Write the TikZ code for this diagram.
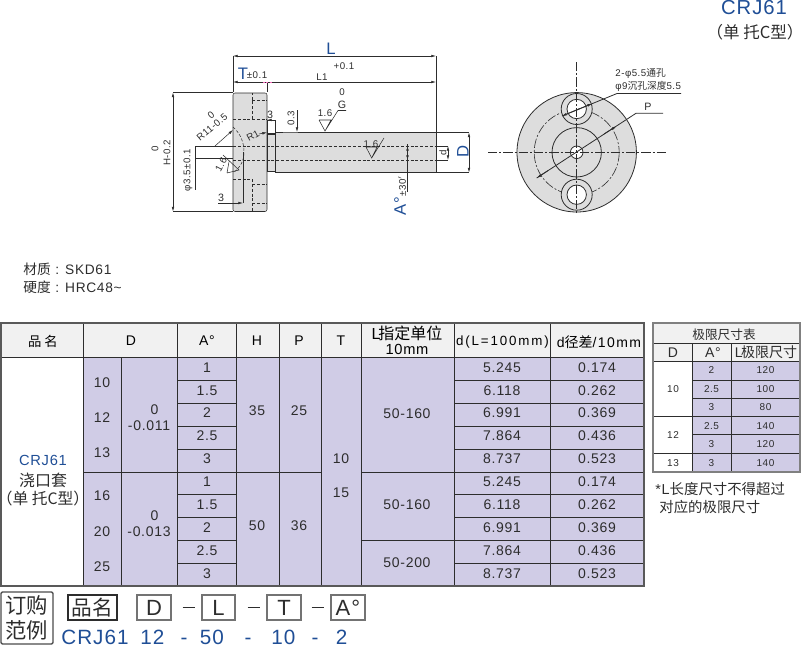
\documentclass[tikz,border=0pt]{standalone}
\usepackage{fontspec}
\setmainfont[LetterSpace=5]{Liberation Sans}
\newfontfamily\cjk{Noto Sans CJK SC}
\usetikzlibrary{arrows.meta}

\definecolor{inkgray}{RGB}{45,45,45}
\definecolor{titleblue}{RGB}{31,78,150}
\definecolor{celllav}{RGB}{208,204,230}
\definecolor{headgray}{RGB}{241,241,241}
\definecolor{partgray}{RGB}{221,221,221}

\tikzset{every picture/.style={line width=0.6pt},
  dimline/.style={draw=inkgray,line width=0.4pt},
  dimarrow/.style={dimline,{Latex[length=3.5pt,width=2pt]}-{Latex[length=3.5pt,width=2pt]}},
  tiparrow/.style={dimline,-{Latex[length=3.5pt,width=2pt]}},
  hiddenline/.style={draw=inkgray,line width=0.4pt,dash pattern=on 2.2pt off 1.4pt},
  centerline/.style={draw=inkgray,line width=0.45pt,dash pattern=on 7pt off 1.5pt on 1.5pt off 1.5pt},
  dimtext/.style={inner sep=0pt,text=inkgray,font=\fontsize{7.3}{8}\selectfont},
  bluedim/.style={inner sep=0pt,text=titleblue,font=\fontsize{12.5}{13}\selectfont},
  celltext/.style={inner sep=0pt,text=inkgray,font=\fontsize{10.5}{11}\selectfont},
  headtext/.style={inner sep=0pt,text=black,align=center,font=\fontsize{10.5}{11}\selectfont},
  tabline/.style={draw=inkgray,line width=0.7pt},
  frameline/.style={draw=black!65,line width=1.1pt},
  smalltext/.style={inner sep=0pt,text=inkgray,font=\fontsize{7.5}{8}\selectfont},
  noteline/.style={inner sep=0pt,anchor=west,text=inkgray,font=\fontsize{10.3}{11}\selectfont},
  orderbox/.style={draw=black!55,line width=0.9pt,fill=white,inner sep=0pt,text=inkgray,font=\fontsize{16.5}{17}\selectfont},
  ordertext/.style={inner sep=0pt,anchor=base,text=titleblue,font=\fontsize{15.5}{17}\selectfont}}

\begin{document}
\begin{tikzpicture}[x=0.75pt,y=0.75pt,yscale=-1,xscale=1]
\useasboundingbox (0,0) rectangle (801,646);

% Title
\node [inner sep=0pt,text=titleblue,font=\fontsize{15.2}{18}\selectfont] (titlename) at (754,8) {CRJ61};
\node [inner sep=0pt,text=inkgray,font=\fontsize{12.4}{13}\cjk\selectfont] (titlesub) at (755,32) {（单 托C型）};

% Flange and shank
\draw [dimline,fill=partgray,rounded corners=1.5pt] (233,93) -- (267,93) -- (267,211.5) -- (233,211.5) -- cycle;
\draw [dimline,fill=partgray] (267,134) rectangle (275,171.5);
\draw [dimline,line width=0.6pt,fill=partgray] (275,132.5) rectangle (436,172.5);
% Small step above the neck
\draw [dimline,line width=0.6pt,fill=white] (267,120) rectangle (275,133);

% Hidden edges
\draw [hiddenline] (233,119) -- (252,119) -- (252,93);
\draw [hiddenline] (233,179) -- (252,179) -- (252,211);
\draw [hiddenline] (252,100) -- (267,100) (252,119) -- (267,119);
\draw [hiddenline] (252,184) -- (267,184) (252,203) -- (267,203);
\draw [hiddenline] (233,146) -- (436,146) (233,160) -- (436,160);
\draw [hiddenline] (233,127) .. controls (241,134) and (244,143) .. (244,152) .. controls (244,160) and (241,167) .. (233,173);

% Dimension L, L1, T
\draw [dimline] (233,92) -- (233,56) (436,132) -- (436,56) (267,92) -- (267,82);
\draw [dimarrow] (233,56) -- (436,56);
\draw [dimarrow] (233,82) -- (436,82);
\draw [draw=magenta!60,line width=0.8pt,dash pattern=on 1.5pt off 1pt] (263,82.5) -- (272,82.5);
\node [bluedim] (dimL) at (331,49) {L};
\node [dimtext] (dimplus) at (344,66) {+0.1};
\node [dimtext] (dimLa) at (322,77) {L1};
\node [dimtext] (dimzero) at (342,92) {0};
\node [bluedim] (dimT) at (243,74) {T};
\node [dimtext] (dimTol) at (257,75) {±0.1};

% Dimension H
\draw [dimline] (233,92.5) -- (173,92.5) (233,211.5) -- (173,211.5);
\draw [dimarrow] (173,92.5) -- (173,211.5);
\node [dimtext,rotate=90] (dimHz) at (155,149) {0};
\node [dimtext,rotate=90] (dimH) at (167,153) {H-0.2};

% Spherical radius and hole
\draw [dimline,line width=0.7pt] (195,146) -- (233,146) (195,158) -- (233,158) (195,146) -- (195,190);
\node [dimtext,rotate=90] (dimHole) at (188,170) {φ3.5±0.1};
\draw [tiparrow] (215,146) -- (233,130);
\node [dimtext,rotate=40] (dimR) at (212,127) {R11-0.5};
\node [dimtext,rotate=40] (dimRz) at (211,115.5) {0};

% Depth 3
\draw [dimline,line width=0.7pt] (243,203) -- (243,152);
\draw [tiparrow] (218,203) -- (243,203);
\node [dimtext,font=\fontsize{8}{9}\selectfont] (dimDepth) at (221,198) {3};

% Rotated finish mark
\draw [dimline] (227,173) -- (239,170) -- (223,155) (227,173) -- (229,161.7);
\node [dimtext,rotate=62] (markA) at (221,165) {1.6};

% Step dimensions
\draw [tiparrow] (275,120) -- (267,120);
\node [dimtext,font=\fontsize{8}{9}\selectfont] (dimStep) at (270,114.5) {3};
\draw [dimline,line width=0.9pt,draw=black!60] (283,132.5) -- (298,132.5);
\draw [tiparrow] (297,110) -- (297,132);
\node [dimtext,rotate=90] (dimGap) at (291,118) {0.3};
\draw [tiparrow] (259,134) -- (267,132.5);
\node [dimtext,rotate=28] (dimFillet) at (253,136) {R1};

% Finish marks on the shank
\draw [dimline] (319,120) -- (331,120) -- (325,131) -- (319,120) (325,131) -- (338,110.5) -- (346,110.5);
\node [dimtext] (markB) at (325,113) {1.6};
\node [dimtext,font=\fontsize{8}{9}\selectfont] (markG) at (342,105) {G};
\draw [dimline] (366,147) -- (377,147) -- (371.7,158) -- (366,147) (371.7,158) -- (384,138);
\node [dimtext] (markC) at (371,144.5) {1.6};

% Dimension d, D, A
\draw [dimline] (436,146) -- (448,146) (436,160) -- (448,160);
\draw [dimarrow] (448,146) -- (448,160);
\node [dimtext,rotate=90] (dimd) at (443,152.5) {d};
\draw [dimline] (436,132.5) -- (469,132.5) (436,172.5) -- (469,172.5);
\draw [dimarrow] (469,132.5) -- (469,172.5);
\node [bluedim,rotate=90] (dimD) at (463,151.5) {D};
\draw [dimline] (407.5,144) -- (407.5,192);
\draw [tiparrow] (407.5,152) -- (407.5,146);
\draw [tiparrow] (407.5,153) -- (407.5,160);
\node [bluedim,rotate=90] (dimA) at (400,206) {A°};
\node [dimtext,rotate=90] (dimAtol) at (402,186) {±30$'$};

% End view
\draw [dimline,line width=0.6pt,fill=partgray] (576.7,152.3) circle (59.7);
\draw [centerline] (576.7,152.3) circle (42.5);
\draw [dimline,line width=0.6pt] (576.7,152.3) circle (24.7);
\draw [dimline,line width=0.6pt,fill=white] (576.7,152.3) circle (6.3);
\foreach \yy in {109,194.7}{
  \draw [dimline,line width=0.6pt,fill=partgray] (576.7,\yy) circle (15.5);
  \draw [dimline,line width=0.6pt,fill=white] (576.7,\yy) circle (9.7);
}
\draw [centerline] (488,152.3) -- (666,152.3);
\draw [centerline] (576.7,62) -- (576.7,214);
% Leaders of the end view
\draw [dimline,line width=0.6pt] (562,116) -- (617,93.5) -- (681,93.5);
\draw [tiparrow,line width=0.6pt] (580,108.6) -- (562,116);
\draw [tiparrow,line width=0.6pt] (575,110.6) -- (592,103.7);
\draw [dimline,line width=0.6pt] (536.7,178) -- (636,113.3) -- (663,113.3);
\draw [tiparrow,line width=0.6pt] (548,170.6) -- (536.7,178);
\draw [tiparrow,line width=0.6pt] (604,134) -- (616.7,126);
\node [dimtext,anchor=west] (holeA) at (615,73.5) {2-φ5.5{\cjk 通孔}};
\node [dimtext,anchor=west] (holeB) at (615,86.5) {φ9{\cjk 沉孔深度}5.5};
\node [dimtext,font=\fontsize{8}{9}\selectfont] (dimP) at (648,107) {P};

% Material
\node [noteline] (matA) at (23,269) {{\cjk 材质} : SKD61};
\node [noteline] (matB) at (23,287) {{\cjk 硬度} : HRC48\textasciitilde};

% Main table: fills
\fill [headgray] (1,323) rectangle (644,357);
\fill [celllav] (83,357) rectangle (644,586);

% Main table: lines
\foreach \xx in {83,177,236,279,321,361,454,550}{
  \draw [tabline] (\xx,323) -- (\xx,586);
}
\draw [tabline] (121,357) -- (121,586);
\draw [tabline] (1,357) -- (644,357);
\draw [tabline] (83,472) -- (321,472) (361,472) -- (644,472) (361,540) -- (454,540);
\foreach \yy in {380,403,426,449,494,517,540,563}{
  \draw [tabline] (177,\yy) -- (236,\yy) (454,\yy) -- (644,\yy);
}
\draw [frameline] (1,323) rectangle (644,586);

% Main table: header
\node [headtext,font=\fontsize{10}{11}\cjk\selectfont] (headName) at (43,341) {品 名};
\node [headtext] (headD) at (131,341) {D};
\node [headtext] (headA) at (207,341) {A°};
\node [headtext] (headH) at (257,341) {H};
\node [headtext] (headP) at (299,341) {P};
\node [headtext] (headT) at (341,341) {T};
\node [headtext,font=\fontsize{12}{13}\selectfont] (headLa) at (407,333.5) {L\hspace{-1.5pt}{\cjk 指定单位}};
\node [headtext,font=\fontsize{11}{12}\selectfont] (headLb) at (407,349) {10mm};
\node [headtext,font=\fontsize{10}{11}\addfontfeature{LetterSpace=14}] (headDa) at (502.5,342) {d(L=100mm)};
\node [headtext,font=\fontsize{10.5}{11}\addfontfeature{LetterSpace=10}] (headDb) at (599,342) {d{\cjk 径差}/10mm};

% Main table: rows
\foreach \yy/\aa/\dd/\ee [count=\i] in {367.5/1/5.245/0.174,391/1.5/6.118/0.262,413/2/6.991/0.369,436/2.5/7.864/0.436,458.5/3/8.737/0.523,482/1/5.245/0.174,505/1.5/6.118/0.262,528/2/6.991/0.369,551/2.5/7.864/0.436,573.5/3/8.737/0.523}{
  \node [celltext] (rowA\i) at (207,\yy) {\aa};
  \node [celltext] (rowD\i) at (502,\yy) {\dd};
  \node [celltext] (rowE\i) at (597,\yy) {\ee};
}
\foreach \yy/\dd [count=\i] in {383/10,418/12,453/13,496/16,532/20,567/25}{
  \node [celltext] (sizeD\i) at (102,\yy) {\dd};
}
\node [celltext] (tolA) at (154.5,410) {0};
\node [celltext] (tolB) at (149,426) {-0.011};
\node [celltext] (tolC) at (154.5,516) {0};
\node [celltext] (tolD) at (149,532) {-0.013};
\node [celltext] (cellHa) at (257,411) {35};
\node [celltext] (cellHb) at (257,526) {50};
\node [celltext] (cellPa) at (299,411) {25};
\node [celltext] (cellPb) at (299,526) {36};
\node [celltext] (cellTa) at (341,459) {10};
\node [celltext] (cellTb) at (341,493) {15};
\node [celltext] (cellLa) at (407,414) {50-160};
\node [celltext] (cellLb) at (407,505) {50-160};
\node [celltext] (cellLc) at (407,563) {50-200};
\node [celltext,text=titleblue,font=\fontsize{11}{12}\selectfont] (nameA) at (43,460) {CRJ61};
\node [celltext,font=\fontsize{12}{13}\cjk\selectfont] (nameB) at (43,480) {浇口套};
\node [celltext,font=\fontsize{11.8}{13}\cjk\selectfont] (nameC) at (43,498.5) {（单 托C型）};

% Limit table
\fill [headgray] (653,323) rectangle (800,361);
\fill [celllav] (692,361) rectangle (800,472);
\draw [tabline] (692,343) -- (692,472) (731,343) -- (731,472);
\draw [tabline] (653,343) -- (800,343) (653,361) -- (800,361) (653,416.7) -- (800,416.7) (653,453.3) -- (800,453.3);
\foreach \yy in {380,398,434.7}{
  \draw [tabline] (692,\yy) -- (800,\yy);
}
\draw [draw=black!50,line width=0.8pt] (653,323) rectangle (800,472);
\node [headtext,font=\fontsize{9.5}{11}\cjk\selectfont,text=inkgray] (limHead) at (724,335) {极限尺寸表};
\node [headtext,text=inkgray] (limD) at (673,352.5) {D};
\node [headtext,text=inkgray] (limA) at (713,352.5) {A°};
\node [headtext,font=\fontsize{10.5}{11}\selectfont,text=inkgray] (limL) at (766,352.5) {L\hspace{-1pt}{\cjk 极限尺寸}};
\foreach \yy/\aa/\ll [count=\i] in {370.5/2/120,389/2.5/100,407.5/3/80,426/2.5/140,444/3/120,463/3/140}{
  \node [smalltext] (limRowA\i) at (711.5,\yy) {\aa};
  \node [smalltext] (limRowL\i) at (765.5,\yy) {\ll};
}
\node [smalltext] (limSizeA) at (673,389.5) {10};
\node [smalltext] (limSizeB) at (673,435) {12};
\node [smalltext] (limSizeC) at (673,463) {13};
\node [noteline,font=\fontsize{10.8}{12}\selectfont] (noteA) at (655,489.5) {*L{\cjk 长度尺寸不得超过}};
\node [noteline,font=\fontsize{10.8}{12}\selectfont] (noteB) at (659,507) {{\cjk 对应的极限尺寸}};

% Ordering example
\node [draw=black!70,line width=1pt,rounded corners=1pt,minimum width=52pt*0.75,minimum height=52pt*0.75,inner sep=0pt,text=inkgray,align=center,font=\fontsize{16}{19}\cjk\selectfont] (orderTag) at (27,618) {订购\\范例};
\node [orderbox,draw=inkgray,minimum width=49pt*0.75,minimum height=25pt*0.75,font=\fontsize{15.5}{16}\cjk\selectfont] (orderName) at (92.5,607.5) {品名};
\node [orderbox,minimum width=34pt*0.75,minimum height=25pt*0.75] (orderD) at (154,607.5) {D};
\node [orderbox,minimum width=33pt*0.75,minimum height=25pt*0.75] (orderL) at (218.5,607.5) {L};
\node [orderbox,minimum width=34pt*0.75,minimum height=25pt*0.75] (orderT) at (284,607.5) {T};
\node [orderbox,minimum width=34pt*0.75,minimum height=25pt*0.75] (orderA) at (348,607.5) {A°};
\draw [draw=inkgray,line width=1pt] (orderD.east) ++(11,0) -- ++(12,0);
\draw [draw=inkgray,line width=1pt] (orderL.east) ++(12,0) -- ++(12,0);
\draw [draw=inkgray,line width=1pt] (orderT.east) ++(10,0) -- ++(12,0);
\foreach \xx/\tt [count=\i] in {95/CRJ61,152.5/12,184/-,212/50,248/-,283.5/10,315/-,341.5/2}{
  \node [ordertext] (orderVal\i) at (\xx,644) {\tt};
}

\end{tikzpicture}
\end{document}
